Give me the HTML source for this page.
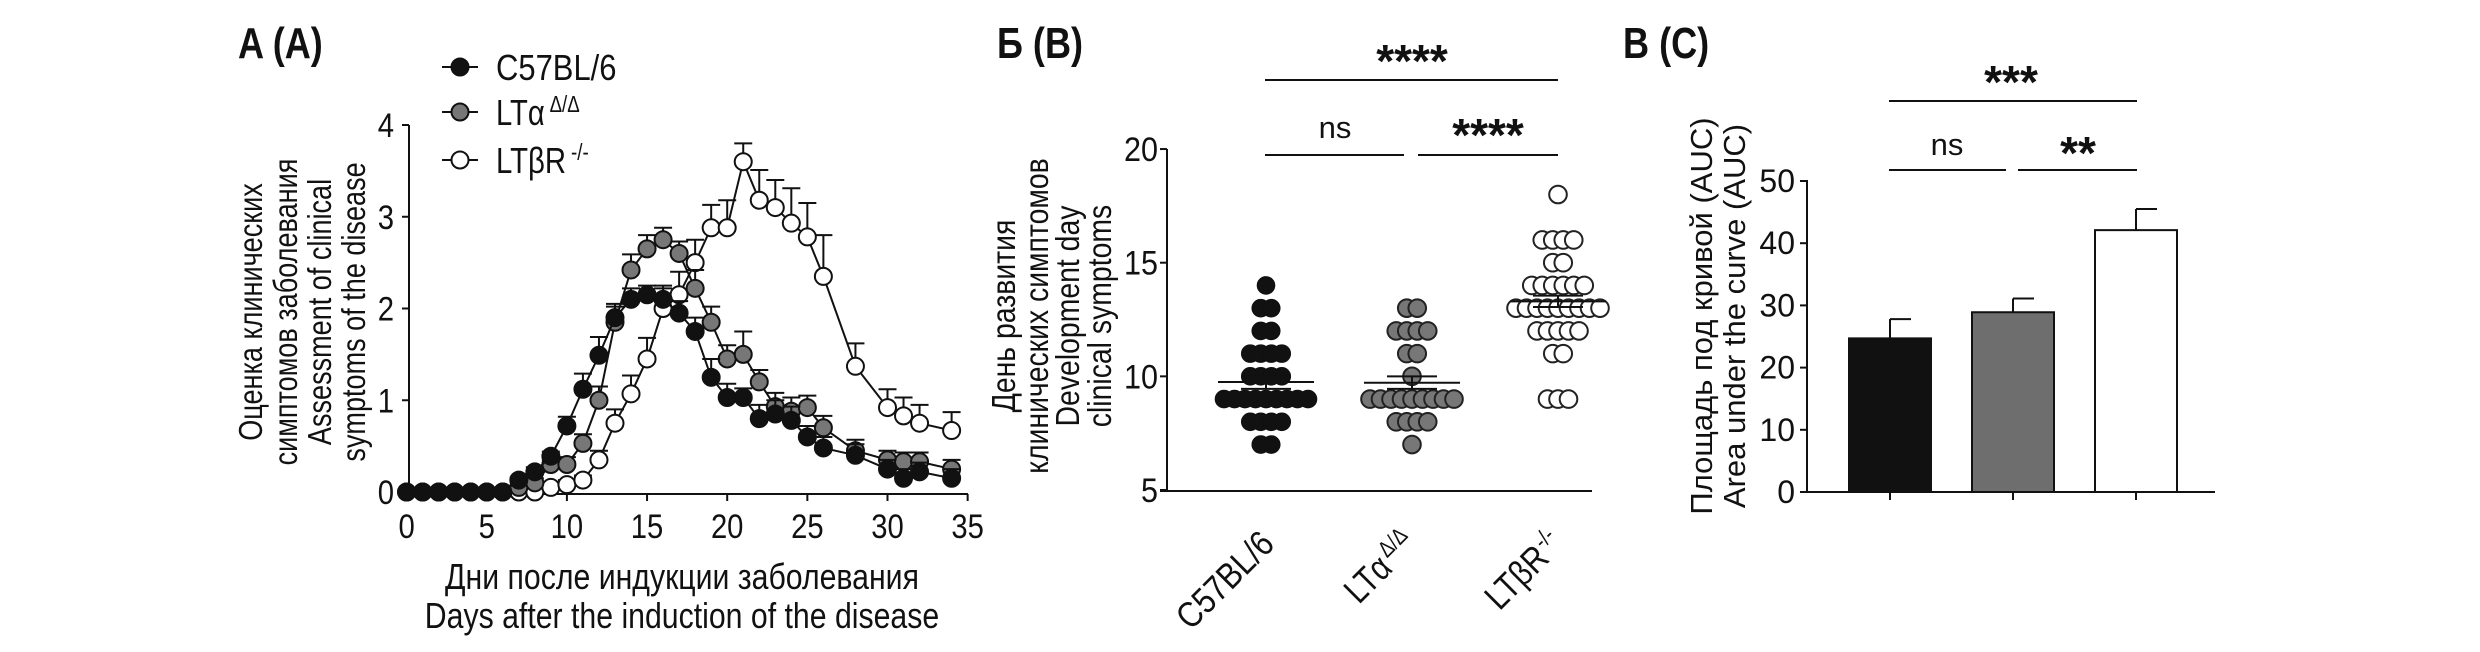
<!DOCTYPE html>
<html><head><meta charset="utf-8"><style>
html,body{margin:0;padding:0;background:#fff;}
svg{display:block;}
text{font-family:"Liberation Sans",sans-serif;fill:#111;}
</style></head><body>
<svg id="s" width="2480" height="652" viewBox="0 0 2480 652" xmlns="http://www.w3.org/2000/svg">
<g stroke="#111" stroke-width="2" fill="none">
<line x1="409" y1="125" x2="409" y2="494"/>
<line x1="407" y1="494" x2="968" y2="494"/>
<line x1="1167" y1="149" x2="1167" y2="491"/>
<line x1="1160" y1="491" x2="1592" y2="491"/>
<line x1="1807" y1="180" x2="1807" y2="492"/>
<line x1="1800" y1="492" x2="2215" y2="492"/>
<line x1="1265" y1="80" x2="1558" y2="80"/>
<line x1="1265" y1="155" x2="1404" y2="155"/>
<line x1="1418" y1="155" x2="1558" y2="155"/>
<line x1="1889" y1="101" x2="2137" y2="101"/>
<line x1="1889" y1="170" x2="2006" y2="170"/>
<line x1="2018" y1="170" x2="2137" y2="170"/>
</g>
<g id="g"></g>
<text class="n" data-f="0.82" x="238" y="58" font-size="44" font-weight="bold">A (A)</text>
<text class="n" data-f="0.82" x="997" y="58" font-size="44" font-weight="bold">Б (B)</text>
<text class="n" data-f="0.82" x="1623" y="58" font-size="44" font-weight="bold">В (C)</text>
<g stroke="#111" stroke-width="2">
<line x1="442" y1="67" x2="478" y2="67"/><circle cx="460" cy="67" r="8.5" fill="#111"/>
<line x1="442" y1="112" x2="478" y2="112"/><circle cx="460" cy="112" r="8.5" fill="#777"/>
<line x1="442" y1="160" x2="478" y2="160"/><circle cx="460" cy="160" r="8.5" fill="#fff"/>
</g>
<text class="n" data-f="0.86" x="496" y="80" font-size="36">C57BL/6</text>
<text class="n" data-f="0.86" x="496" y="125" font-size="36">LTα<tspan font-size="23" dy="-13" dx="6">Δ/Δ</tspan></text>
<text class="n" data-f="0.86" x="496" y="173" font-size="36">LTβR<tspan font-size="23" dy="-13" dx="6">-/-</tspan></text>
<g font-size="33" text-anchor="middle">
<text class="n" data-f="0.82" transform="translate(262,312) rotate(-90)">Оценка клинических</text>
<text class="n" data-f="0.82" transform="translate(297,312) rotate(-90)">симптомов заболевания</text>
<text class="n" data-f="0.82" transform="translate(331,312) rotate(-90)">Assessment of clinical</text>
<text class="n" data-f="0.82" transform="translate(365,312) rotate(-90)">symptoms of the disease</text>
</g>
<g font-size="36" text-anchor="middle">
<text class="n" data-f="0.84" x="682" y="589">Дни после индукции заболевания</text>
<text class="n" data-f="0.84" x="682" y="628">Days after the induction of the disease</text>
</g>
<g font-size="33" text-anchor="middle">
<text class="n" data-f="0.86" transform="translate(1015,316) rotate(-90)">День развития</text>
<text class="n" data-f="0.86" transform="translate(1048,316) rotate(-90)">клинических симптомов</text>
<text class="n" data-f="0.86" transform="translate(1079,316) rotate(-90)">Development day</text>
<text class="n" data-f="0.86" transform="translate(1111,316) rotate(-90)">clinical symptoms</text>
</g>
<g font-size="36" text-anchor="end">
<text class="n" data-f="0.86" transform="translate(1276,546) rotate(-45)">C57BL/6</text>
<text class="n" data-f="0.86" transform="translate(1418,546) rotate(-45)">LTα<tspan font-size="23" dy="-13" dx="4">Δ/Δ</tspan></text>
<text class="n" data-f="0.86" transform="translate(1565,546) rotate(-45)">LTβR<tspan font-size="23" dy="-13" dx="2">-/-</tspan></text>
</g>
<g font-size="31" text-anchor="middle">
<text transform="translate(1712,316) rotate(-90)">Площадь под кривой (AUC)</text>
<text transform="translate(1745,316) rotate(-90)">Area under the curve (AUC)</text>
</g>
<g font-size="46" font-weight="bold" text-anchor="middle">
<text x="1412" y="77">****</text>
<text x="1488" y="151">****</text>
<text x="2011" y="98">***</text>
<text x="2078" y="169">**</text>
</g>
<g font-size="31" text-anchor="middle">
<text x="1335" y="138">ns</text>
<text x="1947" y="155">ns</text>
</g>
</svg>
<script>
const NS="http://www.w3.org/2000/svg",G=document.getElementById('g');
function el(n,a,p){const e=document.createElementNS(NS,n);for(const k in a)e.setAttribute(k,a[k]);(p||G).appendChild(e);return e;}
function tx(x,y,s,fs,anc,f){const e=el('text',{x:x,y:y,'font-size':fs,'text-anchor':anc||'middle'});e.textContent=s;if(f){e.setAttribute('class','n');e.setAttribute('data-f',f);}return e;}
const L={stroke:'#111','stroke-width':2,fill:'none'};
const ax=d=>406.6+d*16.03, ay=v=>492-v*91.75;
for(let v=0;v<=4;v++){el('line',Object.assign({x1:402,x2:409,y1:ay(v),y2:ay(v)},L));tx(394,ay(v)+12,v,34,'end',0.86);}
for(let d=0;d<=35;d+=5){el('line',Object.assign({x1:ax(d),x2:ax(d),y1:494,y2:501},L));tx(ax(d),538,d,34,'middle',0.86);}
const days=[0,1,2,3,4,5,6,7,8,9,10,11,12,13,14,15,16,17,18,19,20,21,22,23,24,25,26,28,30,31,32,34];
const blk=[0,0,0,0,0,0,0,.13,.22,.39,.72,1.12,1.49,1.9,2.1,2.15,2.1,1.95,1.75,1.25,1.03,1.03,.8,.85,.78,.6,.48,.4,.25,.15,.22,.15];
const gry=[0,0,0,0,0,0,0,.05,.1,.3,.3,.53,1.0,1.85,2.42,2.65,2.75,2.6,2.22,1.85,1.45,1.5,1.2,.93,.88,.92,.7,.45,.35,.33,.33,.25];
const wht=[0,0,0,0,0,0,0,0,0,.05,.08,.13,.35,.75,1.07,1.45,2.0,2.15,2.5,2.88,2.88,3.6,3.18,3.1,2.93,2.78,2.35,1.37,.92,.83,.75,.67];
const eb=[0,0,0,0,0,0,0,.03,.05,.05,.1,.17,.2,.12,.12,.1,.12,.13,.15,.2,.15,.1,.15,.15,.15,.12,.12,.12,.1,.1,.1,.1];
const eg=[0,0,0,0,0,0,0,.03,.05,.05,.08,.1,.15,.2,.17,.15,.13,.13,.2,.17,.15,.25,.13,.15,.15,.13,.13,.12,.1,.1,.1,.1];
const ew=[0,0,0,0,0,0,0,0,0,.03,.05,.05,.1,.15,.2,.23,.25,.25,.25,.25,.3,.2,.33,.3,.38,.37,.45,.25,.2,.2,.2,.2];
function series(v,e,fill){
  let p=days.map((d,i)=>ax(d)+','+ay(v[i])).join(' ');
  el('polyline',Object.assign({points:p},L));
  days.forEach((d,i)=>{if(e[i]>0.02){const x=ax(d),y1=ay(v[i]),y2=ay(v[i]+e[i]);
    el('line',Object.assign({x1:x,x2:x,y1:y1,y2:y2},L));el('line',Object.assign({x1:x-9,x2:x+9,y1:y2,y2:y2},L));}});
  days.forEach((d,i)=>el('circle',{cx:ax(d),cy:ay(v[i]),r:8.5,fill:fill,stroke:'#111','stroke-width':2}));
}
series(wht,ew,'#fff');series(gry,eg,'#777');series(blk,eb,'#111');
const by=v=>490-(v-5)*22.73;
for(let v=5;v<=20;v+=5){el('line',Object.assign({x1:1160,x2:1167,y1:by(v),y2:by(v)},L));tx(1158,by(v)+12,v,34,'end',0.9);}
function swarm(cx,rows,fill,mean,sl,sh){
  rows.forEach(([v,n])=>{for(let k=0;k<n;k++){const x=cx+(k-(n-1)/2)*10.5;
    el('circle',{cx:x,cy:by(v),r:8.8,fill:fill,stroke:fill=='#111'?'#111':'#222','stroke-width':fill=='#111'?1:2});}});
  el('line',Object.assign({x1:cx-48,x2:cx+48,y1:by(mean),y2:by(mean)},L));
  el('line',Object.assign({x1:cx,x2:cx,y1:by(sl),y2:by(sh)},L));
  el('line',Object.assign({x1:cx-25,x2:cx+25,y1:by(sl),y2:by(sl)},L));
  el('line',Object.assign({x1:cx-25,x2:cx+25,y1:by(sh),y2:by(sh)},L));
}
swarm(1266,[[14,1],[13,2],[12,2],[11,4],[10,4],[9,9],[8,4],[7,2]],'#111',9.75,9.45,10.0);
swarm(1412,[[13,2],[12,4],[11,2],[10,1],[9,9],[8,4],[7,1]],'#777',9.72,9.45,10.0);
swarm(1558,[[18,1],[16,4],[15,2],[14,6],[13,9],[12,5],[11,2],[9,3]],'#fff',13.3,13.05,13.55);
const cy=v=>492-v*6.22;
for(let v=0;v<=50;v+=10){el('line',Object.assign({x1:1800,x2:1807,y1:cy(v),y2:cy(v)},L));tx(1795,cy(v)+11,v,32,'end');}
[[1890,24.7,27.8,'#111'],[2013,28.9,31.1,'#6e6e6e'],[2136,42.1,45.5,'#fff']].forEach(([x,v,e,f])=>{
  el('line',Object.assign({x1:x,x2:x,y1:cy(v),y2:cy(e)},L));el('line',Object.assign({x1:x,x2:x+21,y1:cy(e),y2:cy(e)},L));
  el('rect',{x:x-41,y:cy(v),width:82,height:cy(0)-cy(v),fill:f,stroke:'#111','stroke-width':2});
  el('line',Object.assign({x1:x,x2:x,y1:492,y2:500},L));
});
document.querySelectorAll('text.n').forEach(t=>{const f=parseFloat(t.getAttribute('data-f'));const w=t.getComputedTextLength();
  if(w>0){t.setAttribute('textLength',(w*f).toFixed(1));t.setAttribute('lengthAdjust','spacingAndGlyphs');}});
</script>
</body></html>
